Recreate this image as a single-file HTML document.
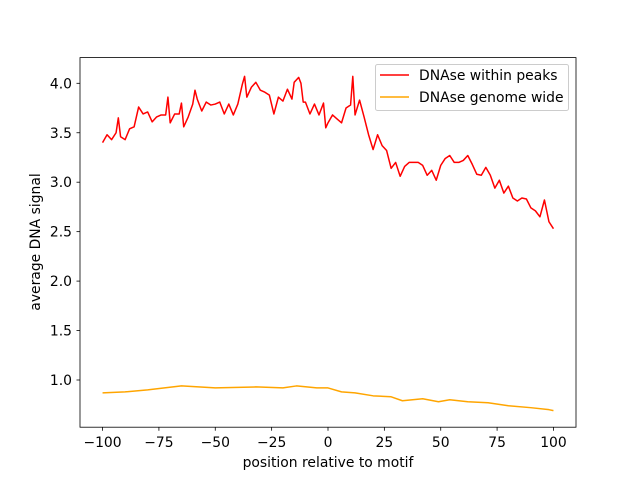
<!DOCTYPE html>
<html><head><meta charset="utf-8"><style>
body{margin:0;background:#fff}
svg text{font-family:"DejaVu Sans","Liberation Sans",sans-serif;font-size:13.9px;fill:#000}
</style></head><body>
<svg id="chart" width="640" height="480">
<rect x="0" y="0" width="640" height="480" fill="#fff"/>
<g id="plot"></g>
</svg>
<script>
const redX=[-100,-98,-96,-94,-93,-92,-90,-88,-86,-84,-82,-80,-78,-76,-74,-72,-71,-70,-68,-66,-65,-64,-62,-60,-59,-58,-56,-54,-52,-50,-48,-46,-44,-42,-40,-38,-37,-36,-34,-32,-30,-28,-26,-24,-22,-20,-18,-16,-15,-13,-12,-11,-10,-8,-6,-4,-2,-1,0,2,4,6,8,10,11,12,14,16,18,20,22,24,26,28,30,32,34,36,38,40,42,44,46,48,50,52,54,56,58,60,62,64,66,68,70,72,74,76,78,80,82,84,86,88,90,92,94,96,98,100];
const redY=[3.40,3.48,3.43,3.50,3.65,3.46,3.43,3.54,3.56,3.76,3.69,3.71,3.61,3.66,3.68,3.68,3.86,3.60,3.69,3.69,3.80,3.56,3.66,3.79,3.93,3.84,3.72,3.81,3.78,3.79,3.81,3.69,3.79,3.68,3.79,3.99,4.07,3.86,3.96,4.01,3.93,3.91,3.88,3.69,3.86,3.82,3.94,3.84,4.01,4.06,4.00,3.81,3.81,3.69,3.79,3.68,3.80,3.55,3.60,3.68,3.64,3.60,3.75,3.78,4.07,3.68,3.83,3.66,3.48,3.33,3.48,3.37,3.32,3.14,3.20,3.06,3.16,3.20,3.20,3.20,3.17,3.07,3.12,3.02,3.17,3.24,3.27,3.20,3.20,3.22,3.27,3.18,3.08,3.07,3.15,3.07,2.94,3.02,2.89,2.96,2.84,2.81,2.84,2.83,2.74,2.71,2.65,2.82,2.60,2.53];
const orX=[-100,-90,-80,-65,-50,-32,-20,-14,-5,0,6,12,20,28,33,42,49,54,62,71,80,90,98,100];
const orY=[0.87,0.88,0.90,0.94,0.92,0.93,0.92,0.94,0.92,0.92,0.88,0.87,0.84,0.83,0.79,0.81,0.78,0.80,0.78,0.77,0.74,0.72,0.70,0.69];
const xTicks=[-100,-75,-50,-25,0,25,50,75,100];
const yTicks=[1.0,1.5,2.0,2.5,3.0,3.5,4.0];
const L=80,R=576,T=57.6,B=427.2;
const xs=v=>L+(v+110)/220*(R-L);
const ys=v=>380-(v-1)*98.9;
const NS="http://www.w3.org/2000/svg";
const g=document.getElementById('plot');
function mk(t,a,p){const e=document.createElementNS(NS,t);for(const k in a)e.setAttribute(k,a[k]);(p||g).appendChild(e);return e;}
function line(X,Y,c,name){
 const d=X.map((x,i)=>(i?'L':'M')+xs(x).toFixed(2)+','+ys(Y[i]).toFixed(2)).join('');
 const p=mk('path',{d:d,fill:'none',stroke:c,'stroke-width':1.5,'stroke-linejoin':'round'});
 
 
}
line(redX,redY,'#ff0000','series-dnase-within-peaks');
line(orX,orY,'#ffa500','series-dnase-genome-wide');
const fr=mk('rect',{x:L,y:T,width:R-L,height:B-T,fill:'none',stroke:'#000','stroke-width':0.8});


xTicks.forEach(v=>{const x=xs(v);
 mk('line',{x1:x,x2:x,y1:B,y2:B+3.5,stroke:'#000','stroke-width':0.8});
 const t=mk('text',{x:x,y:B+20,'text-anchor':'middle'});t.textContent=v<0?'\u2212'+(-v):v;
 
 
});
yTicks.forEach(v=>{const y=ys(v);
 mk('line',{x1:L,x2:L-3.5,y1:y,y2:y,stroke:'#000','stroke-width':0.8});
 const t=mk('text',{x:L-8,y:y+5,'text-anchor':'end'});t.textContent=v.toFixed(1);
 
 
});
let t=mk('text',{x:328,y:467,'text-anchor':'middle'});t.textContent='position relative to motif';


t=mk('text',{x:0,y:0,'text-anchor':'middle',transform:'translate(40,242) rotate(-90)'});t.textContent='average DNA signal';


const lg=mk('g',{});


mk('rect',{x:375.5,y:64.5,width:193,height:46,rx:2,fill:'#fff','fill-opacity':0.8,stroke:'#ccc','stroke-width':1},lg);
mk('line',{x1:380,x2:409,y1:75,y2:75,stroke:'#ff0000','stroke-width':1.5},lg);
mk('line',{x1:380,x2:409,y1:97,y2:97,stroke:'#ffa500','stroke-width':1.5},lg);
t=mk('text',{x:419,y:80},lg);t.textContent='DNAse within peaks';


t=mk('text',{x:419,y:102},lg);t.textContent='DNAse genome wide';


</script>
</body></html>
